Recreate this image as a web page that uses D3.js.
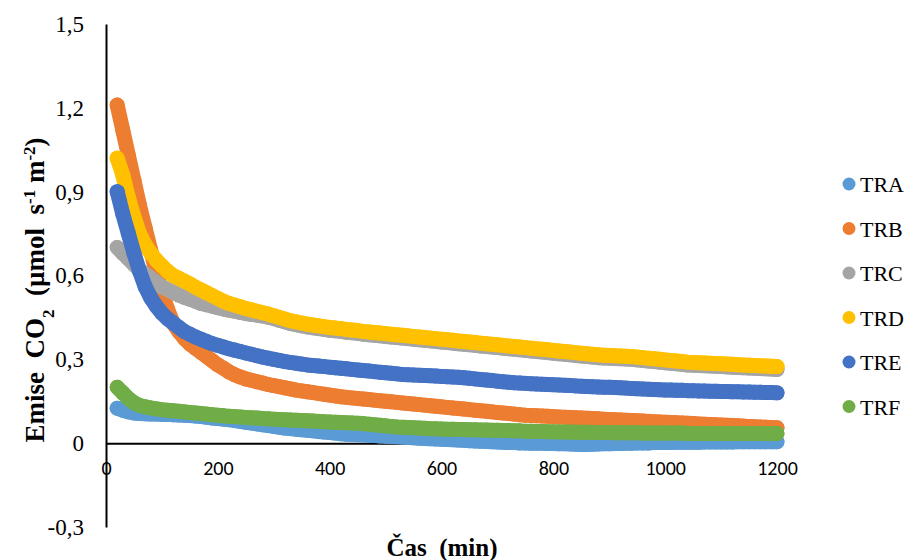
<!DOCTYPE html>
<html>
<head>
<meta charset="utf-8">
<script src="https://cdn.jsdelivr.net/npm/d3@7"></script>
<style>
  html, body { margin: 0; padding: 0; background: #fff; }
  svg { display: block; }
  text { white-space: pre; }
</style>
</head>
<body>
<svg id="chart" width="907" height="560"></svg>
<script>
// Sampling times (min)
const minutes = [
  20,30,40,50,60,70,80,90,100,110,
  120,130,140,150,160,170,180,190,200,210,
  220,230,240,250,260,270,280,290,300,310,
  320,330,340,350,360,370,380,390,400,410,
  420,430,440,450,460,470,480,490,500,510,
  520,530,540,550,560,570,580,590,600,610,
  620,630,640,650,660,670,680,690,700,710,
  720,730,740,750,760,770,780,790,800,810,
  820,830,840,850,860,870,880,890,900,910,
  920,930,940,950,960,970,980,990,1000,1010,
  1020,1030,1040,1050,1060,1070,1080,1090,1100,1110,
  1120,1130,1140,1150,1160,1170,1180,1190,1200
];

// CO2 flux per treatment (µmol s-1 m-2)
const TRA = [
  0.125,0.118,0.112,0.108,0.106,0.105,0.104,0.104,0.103,0.103,
  0.102,0.101,0.100,0.099,0.097,0.095,0.093,0.090,0.088,0.086,
  0.084,0.081,0.078,0.075,0.072,0.069,0.066,0.063,0.060,0.057,
  0.054,0.052,0.050,0.048,0.046,0.044,0.042,0.040,0.038,0.036,
  0.034,0.032,0.031,0.030,0.029,0.028,0.027,0.026,0.025,0.024,
  0.023,0.022,0.020,0.019,0.018,0.017,0.016,0.015,0.014,0.013,
  0.012,0.011,0.010,0.009,0.008,0.007,0.006,0.005,0.004,0.003,
  0.002,0.002,0.001,0.001,0.000,0.000,0.000,-0.001,-0.001,-0.002,
  -0.002,-0.003,-0.004,-0.005,-0.005,-0.004,-0.003,-0.002,-0.002,-0.001,
  -0.001,0.000,0.000,0.001,0.001,0.001,0.002,0.002,0.002,0.002,
  0.003,0.003,0.003,0.003,0.003,0.004,0.004,0.004,0.004,0.004,
  0.004,0.005,0.005,0.005,0.005,0.005,0.005,0.005,0.005
];
const TRB = [
  1.21,1.12,1.03,0.94,0.85,0.77,0.69,0.61,0.54,0.48,
  0.43,0.40,0.375,0.355,0.34,0.325,0.31,0.295,0.28,0.268,
  0.255,0.245,0.237,0.230,0.225,0.220,0.215,0.210,0.206,0.202,
  0.198,0.194,0.190,0.187,0.184,0.181,0.178,0.175,0.172,0.169,
  0.166,0.164,0.162,0.160,0.158,0.156,0.154,0.152,0.150,0.148,
  0.146,0.144,0.142,0.140,0.138,0.136,0.134,0.132,0.130,0.128,
  0.126,0.124,0.122,0.120,0.118,0.116,0.114,0.112,0.110,0.108,
  0.106,0.104,0.102,0.100,0.099,0.098,0.097,0.096,0.095,0.094,
  0.093,0.092,0.091,0.090,0.089,0.088,0.087,0.086,0.085,0.084,
  0.083,0.082,0.081,0.080,0.079,0.078,0.077,0.076,0.075,0.074,
  0.073,0.072,0.071,0.070,0.069,0.068,0.067,0.066,0.065,0.064,
  0.063,0.062,0.061,0.060,0.059,0.058,0.057,0.056,0.055
];
const TRC = [
  0.70,0.68,0.66,0.64,0.62,0.605,0.59,0.575,0.56,0.55,
  0.54,0.53,0.522,0.515,0.508,0.50,0.495,0.49,0.485,0.48,
  0.476,0.472,0.468,0.464,0.461,0.458,0.455,0.451,0.446,0.440,
  0.434,0.428,0.424,0.420,0.416,0.413,0.410,0.407,0.404,0.402,
  0.400,0.397,0.395,0.393,0.390,0.388,0.386,0.384,0.382,0.380,
  0.378,0.376,0.374,0.372,0.370,0.368,0.366,0.364,0.362,0.360,
  0.358,0.356,0.354,0.352,0.350,0.348,0.346,0.344,0.342,0.340,
  0.338,0.336,0.334,0.332,0.330,0.328,0.326,0.324,0.322,0.320,
  0.318,0.316,0.314,0.312,0.310,0.308,0.306,0.305,0.304,0.303,
  0.302,0.301,0.300,0.298,0.296,0.294,0.292,0.290,0.288,0.286,
  0.284,0.282,0.280,0.279,0.278,0.277,0.276,0.275,0.274,0.273,
  0.272,0.271,0.270,0.269,0.268,0.267,0.266,0.265,0.264
];
const TRD = [
  1.02,0.96,0.88,0.81,0.75,0.71,0.68,0.655,0.635,0.615,
  0.60,0.59,0.58,0.57,0.558,0.548,0.538,0.528,0.518,0.508,
  0.500,0.494,0.488,0.482,0.477,0.472,0.467,0.462,0.456,0.450,
  0.444,0.438,0.434,0.430,0.426,0.423,0.420,0.417,0.414,0.412,
  0.410,0.407,0.405,0.403,0.400,0.398,0.396,0.394,0.392,0.390,
  0.388,0.386,0.384,0.382,0.380,0.378,0.376,0.374,0.372,0.370,
  0.368,0.366,0.364,0.362,0.360,0.358,0.356,0.354,0.352,0.350,
  0.348,0.346,0.344,0.342,0.340,0.338,0.336,0.334,0.332,0.330,
  0.328,0.326,0.324,0.322,0.320,0.318,0.316,0.315,0.314,0.313,
  0.312,0.311,0.310,0.308,0.306,0.304,0.302,0.300,0.298,0.296,
  0.294,0.292,0.290,0.289,0.288,0.287,0.286,0.285,0.284,0.283,
  0.282,0.281,0.280,0.279,0.278,0.277,0.276,0.275,0.274
];
const TRE = [
  0.90,0.82,0.75,0.68,0.615,0.56,0.52,0.49,0.465,0.445,
  0.43,0.415,0.40,0.39,0.38,0.372,0.364,0.356,0.35,0.344,
  0.338,0.333,0.328,0.323,0.318,0.313,0.308,0.304,0.300,0.296,
  0.292,0.289,0.286,0.283,0.280,0.278,0.276,0.274,0.272,0.270,
  0.268,0.266,0.264,0.262,0.260,0.258,0.256,0.254,0.252,0.250,
  0.248,0.246,0.245,0.244,0.243,0.242,0.241,0.240,0.239,0.238,
  0.237,0.236,0.234,0.232,0.230,0.228,0.226,0.224,0.222,0.220,
  0.218,0.216,0.215,0.214,0.213,0.212,0.211,0.210,0.209,0.208,
  0.207,0.206,0.205,0.204,0.203,0.202,0.201,0.200,0.200,0.199,
  0.198,0.197,0.196,0.195,0.194,0.193,0.192,0.191,0.190,0.190,
  0.189,0.189,0.188,0.188,0.187,0.187,0.186,0.186,0.185,0.185,
  0.184,0.184,0.183,0.183,0.182,0.182,0.181,0.181,0.180
];
const TRF = [
  0.20,0.18,0.16,0.145,0.135,0.13,0.126,0.123,0.12,0.118,
  0.116,0.114,0.112,0.110,0.108,0.106,0.104,0.102,0.100,0.098,
  0.096,0.095,0.094,0.092,0.091,0.090,0.088,0.087,0.086,0.085,
  0.084,0.083,0.082,0.081,0.080,0.079,0.078,0.077,0.076,0.075,
  0.074,0.073,0.072,0.071,0.070,0.068,0.066,0.064,0.062,0.060,
  0.058,0.057,0.056,0.055,0.054,0.053,0.052,0.052,0.051,0.050,
  0.050,0.049,0.049,0.048,0.048,0.047,0.047,0.046,0.046,0.045,
  0.045,0.044,0.044,0.043,0.043,0.042,0.042,0.041,0.041,0.040,
  0.040,0.040,0.039,0.039,0.039,0.038,0.038,0.038,0.038,0.037,
  0.037,0.037,0.037,0.037,0.036,0.036,0.036,0.036,0.036,0.036,
  0.036,0.036,0.035,0.035,0.035,0.035,0.035,0.035,0.035,0.035,
  0.035,0.035,0.035,0.035,0.035,0.035,0.035,0.035,0.035
];

const seriesNames = ["TRA", "TRB", "TRC", "TRD", "TRE", "TRF"];
const seriesValues = [TRA, TRB, TRC, TRD, TRE, TRF];
const seriesColors = ["#5B9BD5", "#ED7D31", "#A5A5A5", "#FFC000", "#4472C4", "#70AD47"];

const xTicks = [0, 200, 400, 600, 800, 1000, 1200];
const yTicks = [-0.3, 0, 0.3, 0.6, 0.9, 1.2, 1.5];
const yTickLabels = ["-0,3", "0", "0,3", "0,6", "0,9", "1,2", "1,5"];

const svg = d3.select("#chart");
const x = d3.scaleLinear().domain([0, 1200]).range([106, 777]);
const y = d3.scaleLinear().domain([-0.3, 1.5]).range([527, 24]);

const serif = "'Liberation Serif', 'Times New Roman', serif";
const sans = "Carlito, Calibri, Lato, sans-serif";
const markerR = 7.5;

// Y axis (vertical line at x = 0, labels on the left)
const yAxis = svg.append("g")
  .attr("transform", `translate(${x(0)},0)`)
  .call(d3.axisLeft(y).tickValues(yTicks).tickSize(0).tickSizeOuter(0).tickPadding(22)
    .tickFormat((d, i) => yTickLabels[i]));
yAxis.select(".domain").attr("stroke", "#000").attr("stroke-width", 2);
yAxis.selectAll("text").attr("font-family", serif).attr("font-size", 23).attr("fill", "#000");

// X axis crossing at zero
const xAxis = svg.append("g")
  .attr("transform", `translate(0,${y(0)})`)
  .call(d3.axisBottom(x).tickValues(xTicks).tickSize(0).tickSizeOuter(0).tickPadding(18)
    .tickFormat(d3.format("d")));
xAxis.select(".domain").attr("stroke", "#000").attr("stroke-width", 2);
xAxis.selectAll("text").attr("font-family", sans).attr("font-size", 20).attr("fill", "#000");

// Series: dense markers, joined by a band of the same width
const line = d3.line().x(d => x(d[0])).y(d => y(d[1]));
seriesValues.forEach((vals, si) => {
  const pts = minutes.map((m, i) => [m, vals[i]]);
  const g = svg.append("g").attr("class", "series " + seriesNames[si]);
  g.append("path")
    .attr("d", line(pts))
    .attr("fill", "none")
    .attr("stroke", seriesColors[si])
    .attr("stroke-width", markerR * 2)
    .attr("stroke-linecap", "round")
    .attr("stroke-linejoin", "round");
  g.selectAll("circle").data(pts).join("circle")
    .attr("cx", d => x(d[0]))
    .attr("cy", d => y(d[1]))
    .attr("r", markerR)
    .attr("fill", seriesColors[si]);
});

// Legend
const legend = svg.append("g").attr("transform", "translate(849,184)");
seriesNames.forEach((name, i) => {
  const row = legend.append("g").attr("transform", `translate(0,${i * 44.5})`);
  row.append("circle").attr("r", 6.5).attr("fill", seriesColors[i]);
  row.append("text").attr("x", 11).attr("y", 8)
    .attr("font-family", serif).attr("font-size", 22).attr("fill", "#000")
    .text(name);
});

// Axis titles
svg.append("text")
  .attr("x", 442).attr("y", 556)
  .attr("text-anchor", "middle")
  .attr("font-family", serif).attr("font-size", 25).attr("font-weight", "bold")
  .text("Čas  (min)");

const yTitle = svg.append("text")
  .attr("transform", "translate(44,290) rotate(-90)")
  .attr("text-anchor", "middle")
  .attr("font-family", serif).attr("font-size", 27).attr("font-weight", "bold");
yTitle.append("tspan").text("Emise  CO");
yTitle.append("tspan").attr("baseline-shift", "sub").attr("font-size", 17).text("2");
yTitle.append("tspan").text("  (µmol  s");
yTitle.append("tspan").attr("baseline-shift", "super").attr("font-size", 17).text("-1");
yTitle.append("tspan").text(" m");
yTitle.append("tspan").attr("baseline-shift", "super").attr("font-size", 17).text("-2");
yTitle.append("tspan").text(")");
</script>
</body>
</html>
